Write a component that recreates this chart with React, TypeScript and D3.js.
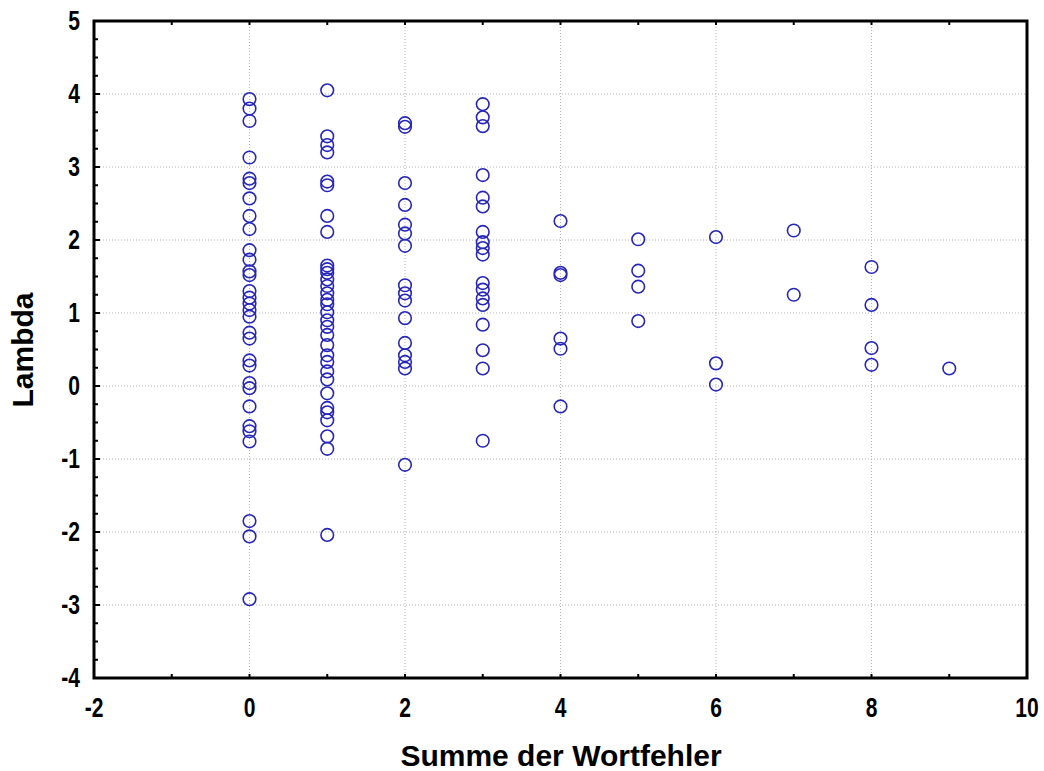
import React, { useRef, useEffect } from 'react';
import * as d3 from 'd3';

// Lambda values, one list per error count
const errors = [0, 1, 2, 3, 4, 5, 6, 7, 8, 9];
const lambda0 = [3.93, 3.8, 3.63, 3.13, 2.84, 2.78, 2.57, 2.33, 2.15, 1.86, 1.73, 1.57, 1.52, 1.3, 1.21, 1.13, 1.04, 0.95, 0.73, 0.65, 0.35, 0.28, 0.04, -0.03, -0.28, -0.55, -0.62, -0.76, -1.85, -2.06, -2.92];
const lambda1 = [4.05, 3.42, 3.3, 3.2, 2.8, 2.75, 2.33, 2.11, 1.65, 1.6, 1.55, 1.46, 1.37, 1.27, 1.18, 1.12, 1.01, 0.9, 0.81, 0.7, 0.56, 0.42, 0.33, 0.2, 0.09, -0.1, -0.3, -0.36, -0.47, -0.69, -0.86, -2.04];
const lambda2 = [3.6, 3.55, 2.78, 2.48, 2.21, 2.09, 1.92, 1.38, 1.27, 1.17, 0.93, 0.59, 0.42, 0.33, 0.24, -1.08];
const lambda3 = [3.86, 3.68, 3.56, 2.89, 2.58, 2.46, 2.11, 1.97, 1.89, 1.8, 1.41, 1.32, 1.2, 1.11, 0.84, 0.49, 0.24, -0.75];
const lambda4 = [2.26, 1.55, 1.52, 0.65, 0.51, -0.28];
const lambda5 = [2.01, 1.58, 1.36, 0.89];
const lambda6 = [2.04, 0.31, 0.02];
const lambda7 = [2.13, 1.25];
const lambda8 = [1.63, 1.11, 0.52, 0.29];
const lambda9 = [0.24];
const columns = [lambda0, lambda1, lambda2, lambda3, lambda4, lambda5, lambda6, lambda7, lambda8, lambda9];

const xTicks = [-2, 0, 2, 4, 6, 8, 10];
const yTicks = [-4, -3, -2, -1, 0, 1, 2, 3, 4, 5];

const W = 1044;
const H = 771;

const App = () => {
  const svgRef = useRef<SVGSVGElement>(null);

  useEffect(() => {
    const svg = d3.select(svgRef.current);
    svg.selectAll('*').remove();

    const left = 94, right = 1027, top = 21, bottom = 678;
    const x = d3.scaleLinear().domain([-2, 10]).range([left, right]);
    const y = d3.scaleLinear().domain([-4, 5]).range([bottom, top]);

    const points = columns.flatMap((vals, i) => vals.map(v => ({ e: errors[i], v })));

    // grid
    const grid = svg.append('g').attr('stroke', '#b4b4b4').attr('stroke-width', 1).attr('stroke-dasharray', '1,2');
    grid.selectAll('line.gx').data(xTicks.slice(1, -1)).join('line')
      .attr('x1', d => x(d)).attr('x2', d => x(d)).attr('y1', top).attr('y2', bottom);
    grid.selectAll('line.gy').data(yTicks.slice(1, -1)).join('line')
      .attr('class', 'gy')
      .attr('x1', left).attr('x2', right).attr('y1', d => y(d)).attr('y2', d => y(d));

    // minor ticks
    const minorY = d3.range(-4, 5.01, 0.25);
    const ticks = svg.append('g').attr('stroke', '#000').attr('stroke-width', 2);
    ticks.selectAll('line.my').data(minorY).join('line')
      .attr('x1', left).attr('x2', d => left + (Number.isInteger(d) ? 6 : 4))
      .attr('y1', d => y(d)).attr('y2', d => y(d));
    const minorX = d3.range(-2, 10.01, 1);
    ticks.selectAll('line.mxt').data(minorX).join('line')
      .attr('class', 'mxt')
      .attr('x1', d => x(d)).attr('x2', d => x(d)).attr('y1', top).attr('y2', top + 4);
    ticks.selectAll('line.mxb').data(minorX).join('line')
      .attr('class', 'mxb')
      .attr('x1', d => x(d)).attr('x2', d => x(d)).attr('y1', bottom).attr('y2', bottom - 4);

    // frame
    svg.append('rect')
      .attr('x', left).attr('y', top).attr('width', right - left).attr('height', bottom - top)
      .attr('fill', 'none').attr('stroke', '#000').attr('stroke-width', 3);

    // points
    svg.append('g').selectAll('circle').data(points).join('circle')
      .attr('cx', d => x(d.e)).attr('cy', d => y(d.v)).attr('r', 6.3)
      .attr('fill', 'none').attr('stroke', '#2626b8').attr('stroke-width', 1.6);

    const font = "'Liberation Sans', Arial, sans-serif";

    // tick labels (narrow bold digits)
    svg.append('g').selectAll('text').data(xTicks).join('text')
      .attr('transform', d => `translate(${x(d)},717) scale(0.78,1)`)
      .attr('text-anchor', 'middle')
      .attr('font-family', font).attr('font-weight', 'bold').attr('font-size', 27)
      .text(d => d);
    svg.append('g').selectAll('text').data(yTicks).join('text')
      .attr('transform', d => `translate(80,${y(d) + 9}) scale(0.78,1)`)
      .attr('text-anchor', 'end')
      .attr('font-family', font).attr('font-weight', 'bold').attr('font-size', 27)
      .text(d => d);

    // axis titles
    svg.append('text')
      .attr('x', 561).attr('y', 766)
      .attr('text-anchor', 'middle')
      .attr('font-family', font).attr('font-weight', 'bold').attr('font-size', 30)
      .text('Summe der Wortfehler');
    svg.append('text')
      .attr('transform', `translate(33,350) rotate(-90)`)
      .attr('text-anchor', 'middle')
      .attr('font-family', font).attr('font-weight', 'bold').attr('font-size', 30)
      .text('Lambda');
  }, []);

  return (
    <svg ref={svgRef} width={W} height={H}
      style={{ position: 'absolute', left: 0, top: 0, background: '#fff' }} />
  );
};

export default App;
